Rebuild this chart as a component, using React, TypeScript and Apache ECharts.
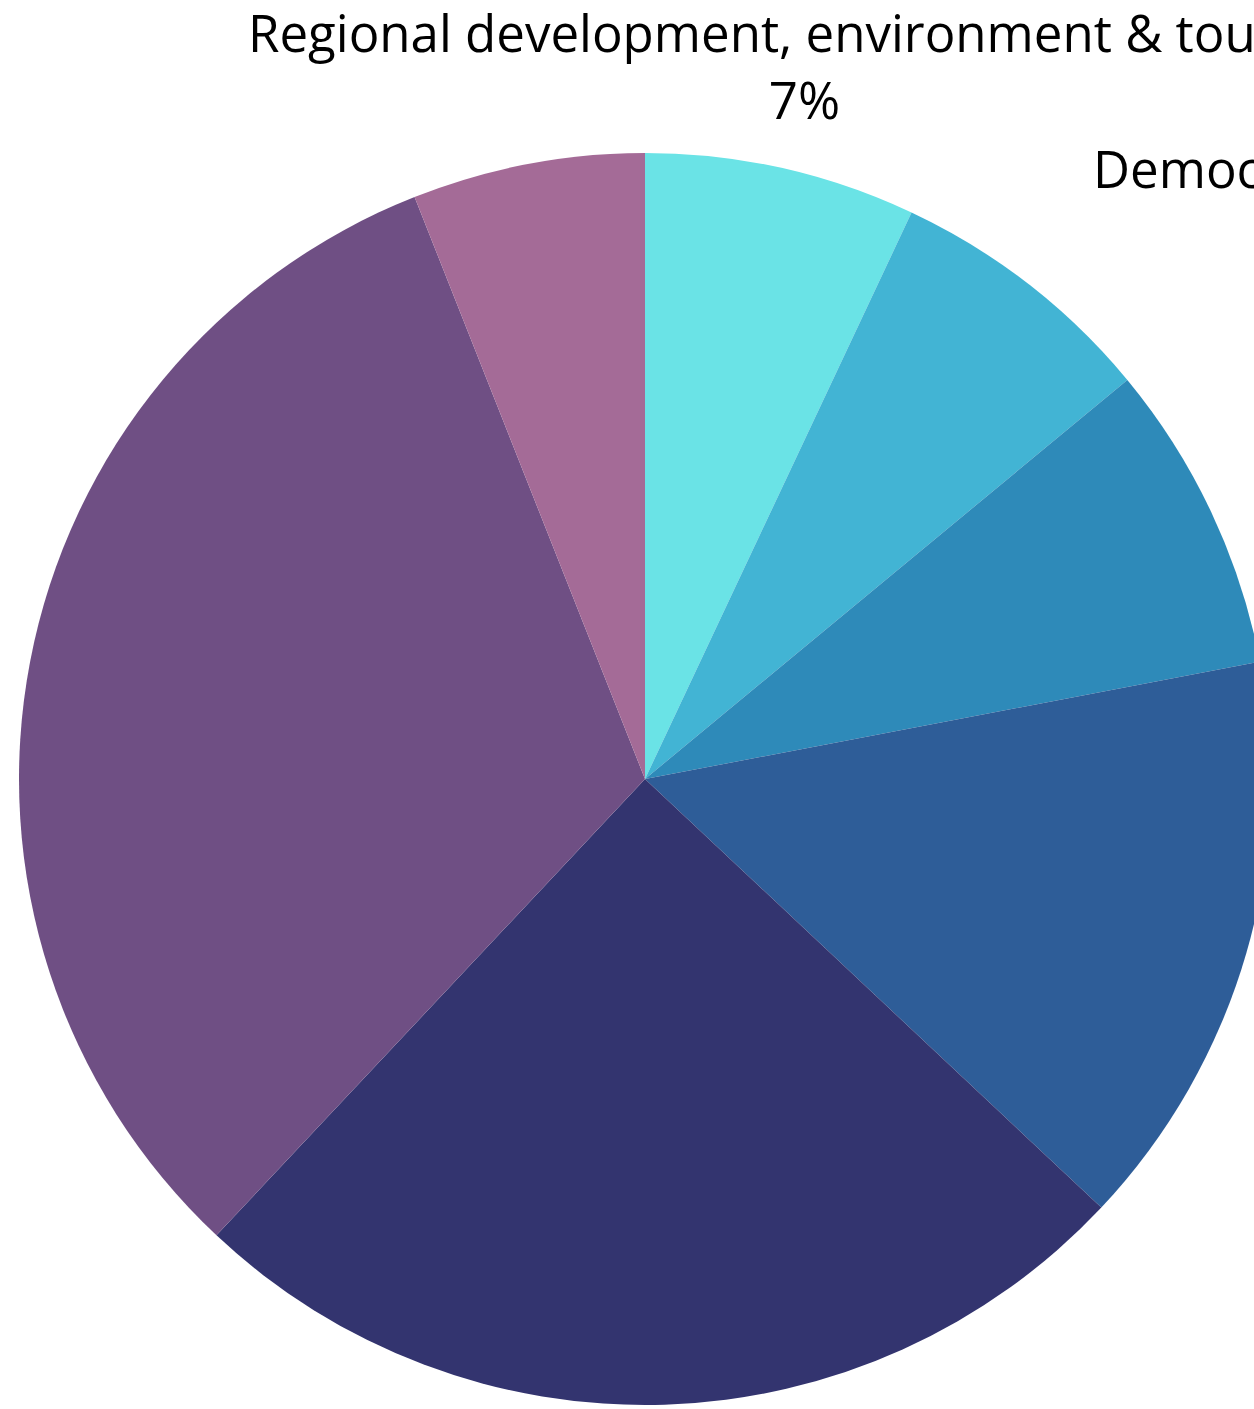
import React, { useEffect, useRef } from "react";
import * as echarts from "echarts";

const categories = [
  "Regional development, environment & tourism",
  "Democracy, justice & governance",
  "Culture & sport",
  "Economy & infrastructure",
  "Health",
  "Education",
  "Social services",
];
const shares = [7, 7, 8, 15, 25, 32, 6];
const colors = ["#6AE3E6", "#42B4D4", "#2E8AB9", "#2E5D98", "#33346F", "#6F4F84", "#A46B97"];
const labelled = [true, true, false, false, false, false, false];

const CX = 645;
const CY = 779;
const R = 626;
const LABEL_R = 731;

export default function App() {
  const ref = useRef<HTMLDivElement>(null);
  useEffect(() => {
    const chart = echarts.init(ref.current as HTMLDivElement, null, { renderer: "svg" });
    const total = shares.reduce((a, b) => a + b, 0);
    const mids: number[] = [];
    let acc = 0;
    shares.forEach((v) => {
      mids.push(((acc + v / 2) / total) * 2 * Math.PI);
      acc += v;
    });
    chart.setOption({
      animation: false,
      series: [
        {
          type: "pie",
          left: 0,
          top: 0,
          width: 5000,
          height: 5000,
          center: [CX, CY],
          radius: R,
          startAngle: 90,
          clockwise: true,
          percentPrecision: 0,
          avoidLabelOverlap: false,
          emphasis: { disabled: true },
          itemStyle: { borderWidth: 0 },
          label: {
            show: true,
            position: "outside",
            formatter: "{n|{b}}\n{n|{d}%}",
            rich: {
              n: {
                fontFamily: "Open Sans",
                fontSize: 51,
                lineHeight: 67,
                color: "#000",
                align: "center",
              },
            },
          },
          labelLine: { show: false },
          labelLayout: (p: any) => {
            const a = mids[p.dataIndex];
            const s = Math.sin(a);
            const c = Math.cos(a);
            return {
              x: CX + LABEL_R * s,
              y: CY - LABEL_R * c,
              align: Math.abs(s) < 0.3 ? "center" : s > 0 ? "left" : "right",
              verticalAlign: "middle",
            };
          },
          data: categories.map((name, i) => ({
            name,
            value: shares[i],
            itemStyle: { color: colors[i] },
            label: { show: labelled[i] },
          })),
        },
      ],
    });
    return () => chart.dispose();
  }, []);
  return (
    <div
      ref={ref}
      style={{ position: "fixed", left: 0, top: 0, width: 1254, height: 1409, background: "#fff" }}
    />
  );
}
